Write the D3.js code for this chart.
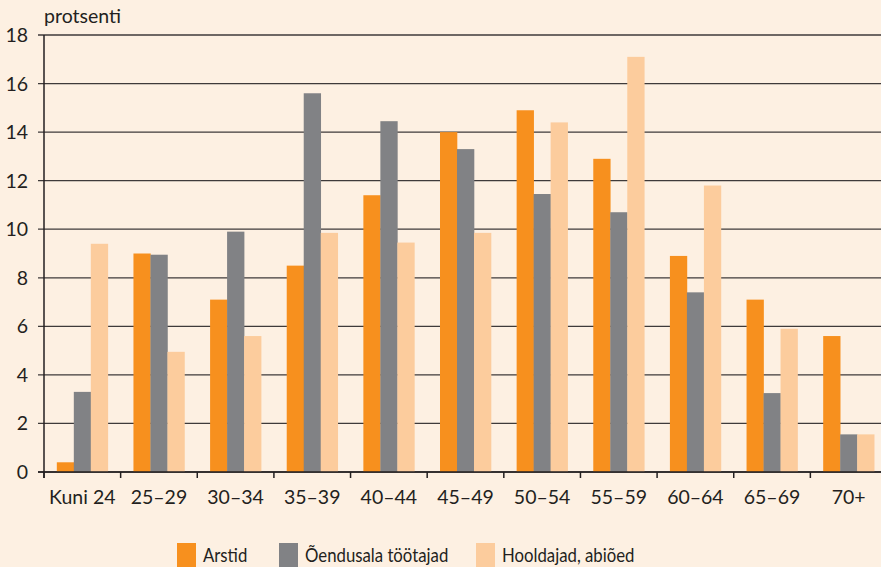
<!DOCTYPE html>
<html><head><meta charset="utf-8">
<script src="https://cdn.jsdelivr.net/npm/d3@7"></script>
<style>
html,body{margin:0;padding:0;background:#fdf0e2;}
svg{display:block;}
text{font-family:Lato,"Open Sans",sans-serif;fill:#231f20;}
</style></head>
<body>
<svg id="c" width="881" height="567"></svg>
<script>
const categories = ["Kuni 24","25–29","30–34","35–39","40–44","45–49","50–54","55–59","60–64","65–69","70+"];
const seriesNames = ["Arstid","Õendusala töötajad","Hooldajad, abiõed"];
const arstid = [0.4, 9.0, 7.1, 8.5, 11.4, 14.0, 14.9, 12.9, 8.9, 7.1, 5.6];
const oendus = [3.3, 8.95, 9.9, 15.6, 14.45, 13.3, 11.45, 10.7, 7.4, 3.25, 1.55];
const hooldajad = [9.4, 4.95, 5.6, 9.85, 9.45, 9.85, 14.4, 17.1, 11.8, 5.9, 1.55];
const yTicks = [0,2,4,6,8,10,12,14,16,18];
const colors = ["#f7901e","#818285","#fccc9d"];

(function(){
const series = [arstid, oendus, hooldajad];
const svg = d3.select("#c");
const mLeft = 44, mRight = 887, mTop = 35, mBottom = 472;
const fs = 19.5;

const x = d3.scaleBand().domain(categories).range([mLeft, mRight]).paddingInner(0).paddingOuter(0);
const y = d3.scaleLinear().domain([0,18]).range([mBottom, mTop]);
const barW = 17;
const xs = d3.scaleBand().domain(d3.range(3)).range([0, barW*3]);

svg.append("g").selectAll("line").data(yTicks).join("line")
  .attr("x1", mLeft-6).attr("x2", 881)
  .attr("y1", d=>y(d)).attr("y2", d=>y(d))
  .attr("stroke", "#3e3a3a").attr("stroke-width", 1.3);

svg.append("g").selectAll("text").data(yTicks).join("text")
  .attr("x", 28).attr("y", d=>y(d)).attr("dy", "0.36em")
  .attr("text-anchor", "end").attr("font-size", fs).text(d=>d);

const g = svg.append("g");
series.forEach((s, i) => {
  g.selectAll(null).data(s).join("rect")
    .attr("x", (d, j) => x(categories[j]) + (x.bandwidth() - barW*3)/2 + xs(i))
    .attr("width", barW + 0.3)
    .attr("y", d => y(d))
    .attr("height", d => y(0) - y(d))
    .attr("fill", colors[i]);
});

svg.append("line").attr("x1", mLeft).attr("x2", mLeft).attr("y1", mTop).attr("y2", mBottom+6)
  .attr("stroke", "#231f20").attr("stroke-width", 1.5);
svg.append("line").attr("x1", mLeft-6).attr("x2", 881).attr("y1", mBottom).attr("y2", mBottom)
  .attr("stroke", "#231f20").attr("stroke-width", 1.5);
svg.append("g").selectAll("line").data(categories).join("line")
  .attr("x1", d=>x(d)).attr("x2", d=>x(d)).attr("y1", mBottom).attr("y2", mBottom+6)
  .attr("stroke", "#231f20").attr("stroke-width", 1.5);
svg.append("g").selectAll("text").data(categories).join("text")
  .attr("x", d=>x(d)+x.bandwidth()/2).attr("y", 504)
  .attr("text-anchor", "middle").attr("font-size", fs).text(d=>d);

svg.append("text").attr("x", 44).attr("y", 23).attr("font-size", fs).text("protsenti");

const legX = [177, 279, 476];
const leg = svg.append("g");
seriesNames.forEach((n, i) => {
  leg.append("rect").attr("x", legX[i]).attr("y", 543).attr("width", 19).attr("height", 24).attr("fill", colors[i]);
  leg.append("text").attr("transform", `translate(${legX[i]+26},562) scale(0.86,1)`)
    .attr("font-size", fs).text(n);
});
})();
</script>
</body></html>
